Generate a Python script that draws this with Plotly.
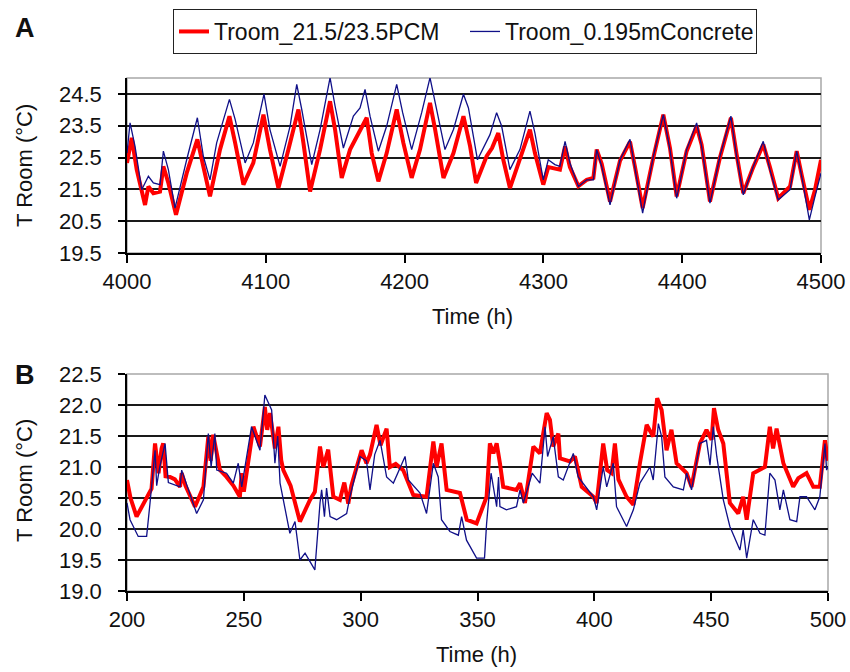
import plotly.graph_objects as go

# ---------------- Panel A data (hours 4000-4500) ----------------
a_pcm_t = [4000, 4003.4, 4007, 4013, 4015.4, 4019, 4023.8, 4026.2, 4029.8, 4035.3, 4043, 4050.7,
           4055, 4059.8, 4067, 4073.8, 4077.9, 4083.9, 4091, 4098.3, 4103, 4109.1, 4116.3, 4123.5,
           4127.1, 4131.9, 4139.1, 4146.3, 4149.9, 4154.7, 4160.7, 4165.5, 4172.7, 4176.3, 4181.1,
           4187.1, 4194.3, 4199.1, 4205.1, 4211.1, 4218.3, 4222, 4228, 4235.2, 4242.4, 4247.2,
           4251.5, 4259.1, 4263, 4267.5, 4271.1, 4275.9, 4283.1, 4290.3, 4293.9, 4299.9, 4303.5,
           4308.3, 4311.9, 4315.6, 4319.1, 4325.2, 4331.2, 4336, 4338.4, 4342, 4348, 4355.2, 4362.4,
           4366, 4371.5, 4379.2, 4386.4, 4391.2, 4396, 4403.2, 4410.4, 4414, 4420, 4427.2, 4435.1,
           4439.2, 4444, 4451.2, 4458.4, 4463.2, 4469.2, 4477.7, 4482.5, 4486.1, 4491.6, 4495.7, 4500]
a_pcm_v = [22.33, 23.12, 22.12, 21.01, 21.59, 21.38, 21.43, 22.22, 21.70, 20.70, 22.01, 23.07,
           22.22, 21.28, 22.75, 23.80, 22.96, 21.65, 22.33, 23.85, 22.75, 21.54, 22.75, 24.01,
           22.96, 21.43, 22.75, 24.27, 23.38, 21.86, 22.75, 23.17, 23.75, 22.64, 21.75,
           22.64, 24.01, 22.96, 21.86, 22.75, 24.22, 23.38, 21.86, 22.64, 23.80, 22.85,
           21.70, 22.54, 22.80, 23.27, 22.43, 21.54, 22.43, 23.38, 22.64, 21.65, 22.20,
           22.15, 22.12, 22.85, 22.20, 21.60, 21.80, 21.86, 22.75, 22.30, 21.12, 22.40, 23.00,
           22.20, 20.91, 22.50, 23.85, 22.80, 21.28, 22.70, 23.49, 22.90, 21.12, 22.50, 23.75,
           22.60, 21.38, 22.20, 22.91, 22.20, 21.22, 21.59, 22.70, 21.95, 20.86, 21.49, 22.43]

a_con_t = [4000, 4002.2, 4005.8, 4010.6, 4015.4, 4019, 4023.8, 4026.2, 4029.8, 4034.6, 4043, 4050.7,
           4055, 4059.8, 4064.6, 4073.8, 4077.9, 4085.1, 4091, 4098.7, 4103, 4110.3, 4117.5, 4122.3,
           4125.9, 4133.1, 4139.1, 4146.3, 4149.9, 4155.9, 4163.1, 4167.9, 4171.5, 4175.1, 4181.1,
           4187.1, 4194.3, 4198.6, 4205.1, 4212.3, 4218.3, 4222.7, 4229.1, 4235.2, 4242.4, 4246,
           4252.5, 4261.5, 4266.3, 4269.9, 4275.9, 4283.1, 4290.3, 4293.9, 4299.9, 4303.5, 4308.3,
           4311.9, 4315.6, 4319.1, 4325.2, 4331.2, 4336, 4338.4, 4342, 4348, 4355.2, 4362.4, 4366,
           4371.5, 4379.2, 4386.4, 4391.2, 4396, 4403.2, 4410.4, 4414, 4420, 4427.2, 4435.1, 4439.2,
           4444, 4451.2, 4458.4, 4463.2, 4469.2, 4477.7, 4482.5, 4486.1, 4491.6, 4495.7, 4500]
a_con_v = [22.64, 23.59, 22.85, 21.49, 21.91, 21.70, 21.65, 22.70, 22.12, 20.91, 22.43, 23.75,
           22.54, 21.80, 22.96, 24.33, 23.70, 22.33, 22.96, 24.49, 23.38, 22.22, 23.49, 24.80,
           24.01, 22.28, 23.38, 25.01, 24.12, 22.80, 23.80, 24.06, 24.64, 23.80, 22.70,
           23.49, 24.80, 23.91, 22.75, 23.91, 25.01, 24.12, 22.75, 23.38, 24.49, 24.06,
           22.43, 23.22, 23.91, 23.49, 22.12, 22.75, 23.96, 23.27, 21.80, 22.43, 22.28,
           22.22, 23.01, 22.33, 21.59, 21.80, 21.80, 22.75, 22.22, 21.01, 22.43, 23.07, 22.12,
           20.75, 22.54, 23.85, 22.75, 21.22, 22.75, 23.59, 22.85, 21.07, 22.54, 23.80, 22.54,
           21.33, 22.22, 23.01, 22.12, 21.17, 21.49, 22.70, 21.91, 20.54, 21.28, 22.01]

# ---------------- Panel B data (hours 200-500) ----------------
b_pcm_t = [200, 201.5, 204.1, 208.4, 210.5, 212, 213.5, 214.8, 215.5, 216.5, 218.4, 220.5, 222.7,
           223.4, 225, 229.1, 232.7, 234.8, 235.8, 236.9, 238.4, 239.8, 242.6, 245.5, 248.3, 249.1,
           250, 254.1, 256.9, 259, 260, 261.2, 263.3, 264.8, 266, 266.9, 270, 274, 278.3, 280.4,
           282.6, 284, 286.1, 288.3, 291.1, 293, 294.7, 296, 300.4, 302.5, 304, 306.8, 308.5,
           311.1, 312.5, 315, 318.2, 322.5, 328.2, 331.1, 332.5, 334.6, 336.8, 342.5, 345.4,
           349.6, 353.9, 355.3, 356.8, 358.2, 359.6, 361, 366.7, 368.2, 370.3, 373.9, 376.7,
           379.6, 381, 382.4, 384.6, 385.3, 389.6, 391.7, 394.6, 399.6, 401, 403.8, 405.5,
           407.4, 408.8, 410.3, 413.8, 416.7, 419.5, 422.4, 425.2, 426.9, 428.8, 430.9, 433,
           435.2, 439.5, 441.6, 445.2, 448, 450.2, 451.2, 453, 455.2, 458, 461.6, 463.7, 465.2,
           468, 473, 475.1, 476.5, 478, 480.9, 485.1, 487.3, 490.8, 493.7, 496.5, 498.7, 500]
b_pcm_v = [20.79, 20.50, 20.20, 20.52, 20.65, 21.38, 20.90, 21.30, 21.38, 20.85, 20.84, 20.80, 20.68,
           20.90, 20.70, 20.36, 20.68, 21.49, 21.10, 21.52, 21.20, 20.95, 20.84, 20.70, 20.52, 20.90,
           20.60, 21.65, 21.33, 21.97, 21.60, 21.87, 21.30, 21.65, 21.11, 20.95, 20.70, 20.12, 20.47, 20.60,
           21.33, 21.00, 21.28, 20.52, 20.47, 20.75, 20.41, 20.70, 21.27, 21.06, 21.20, 21.68, 21.35,
           21.62, 21.00, 21.05, 20.95, 20.55, 20.52, 21.41, 21.00, 21.38, 20.63, 20.58, 20.15,
           20.09, 20.52, 21.38, 21.22, 21.38, 21.06, 20.68, 20.63, 20.74, 20.42, 21.33, 21.22,
           21.87, 21.76, 21.33, 21.54, 21.14, 21.09, 21.17, 20.68, 20.52, 20.42, 21.38, 20.95,
           20.90, 21.38, 20.80, 20.52, 20.39, 21.06, 21.68, 21.49, 22.11, 21.92, 21.27, 21.60,
           21.06, 20.90, 20.68, 21.38, 21.60, 21.44, 21.95, 21.60, 21.38, 20.42, 20.25, 20.52, 20.15,
           20.90, 21.00, 21.65, 21.30, 21.62, 21.06, 20.68, 20.82, 20.90, 20.68, 20.68, 21.43, 21.10]

b_con_t = [200, 201.3, 204.8, 208.4, 209.8, 212, 212.7, 214, 216.3, 217.7, 222.7, 223.4, 229.8,
           232.7, 234.8, 236, 237.6, 238.4, 242.6, 245.5, 247.6, 249.1, 253.3, 256.9, 259, 261.9,
           263.3, 264.5, 265.5, 269.7, 271.9, 274, 276.2, 280.4, 282.6, 283.3, 284.5, 285.4,
           286.9, 289.7, 294, 295.4, 299.7, 302.5, 304, 306, 308.3, 311.1, 314, 319, 320.4,
           325.4, 328.2, 331.1, 333.2, 334.6, 338.2, 341.8, 343.2, 345.3, 349.6, 353, 353.9,
           355.8, 358.2, 359, 359.6, 362.4, 366.7, 368.2, 369.6, 373.4, 376.7, 378.9, 380,
           382.4, 384.6, 386.7, 391, 393.1, 399.6, 401, 403.8, 405.3, 408.1, 409.5, 413.8,
           416.7, 419.5, 423.8, 425.2, 427.4, 428.8, 430.2, 433.8, 438.1, 439.5, 441.6, 445.2,
           448, 449.5, 450.9, 452.4, 455.2, 458, 462.3, 463.7, 465.2, 468, 470.9, 473, 475.1,
           477.3, 479.4, 480.9, 483.7, 486.6, 488, 490.8, 494.4, 496.5, 498.7, 499.4, 500]
b_con_v = [20.42, 20.15, 19.88, 19.88, 20.40, 21.27, 20.70, 21.00, 21.38, 20.75, 20.68, 20.95, 20.25,
           20.47, 21.54, 21.00, 21.54, 20.95, 20.90, 20.74, 21.06, 20.68, 21.65, 21.27, 22.16, 21.92,
           21.06, 21.50, 20.74, 19.93, 20.12, 19.50, 19.61, 19.34, 20.42, 20.63, 20.20, 20.66,
           20.20, 20.15, 20.25, 20.52, 21.17, 21.10, 20.63, 21.20, 21.43, 20.84, 20.74, 21.17, 20.79,
           20.58, 20.25, 21.06, 20.84, 20.15, 19.96, 19.90, 20.20, 19.82, 19.53, 19.53, 20.09,
           20.90, 20.36, 20.84, 20.36, 20.31, 20.36, 20.63, 20.42, 20.90, 20.74, 21.65, 21.17,
           21.49, 20.84, 20.79, 21.22, 20.84, 20.52, 20.31, 21.00, 20.68, 21.06, 20.36, 20.04,
           20.31, 20.74, 21.00, 20.79, 21.70, 21.49, 20.84, 20.68, 20.63, 20.90, 20.63, 21.38,
           21.43, 21.03, 21.65, 21.17, 20.47, 20.04, 19.66, 19.99, 19.53, 20.15, 19.93, 19.90, 20.90,
           20.79, 20.31, 20.63, 20.15, 20.12, 20.52, 20.52, 20.31, 20.52, 21.38, 20.95, 21.00]

a_xticks = [4000, 4100, 4200, 4300, 4400, 4500]
a_yticks = [19.5, 20.5, 21.5, 22.5, 23.5, 24.5]
b_xticks = [200, 250, 300, 350, 400, 450, 500]
b_yticks = [19.0, 19.5, 20.0, 20.5, 21.0, 21.5, 22.0, 22.5]

name_pcm = "Troom_21.5/23.5PCM"
name_con = "Troom_0.195mConcrete"

RED = "#ff0000"
BLUE = "#101088"
FONT = "Liberation Sans, Arial, sans-serif"

fig = go.Figure()
fig.add_trace(go.Scatter(x=a_pcm_t, y=a_pcm_v, mode="lines", name=name_pcm,
                         line=dict(color=RED, width=4), xaxis="x", yaxis="y"))
fig.add_trace(go.Scatter(x=a_con_t, y=a_con_v, mode="lines", name=name_con,
                         line=dict(color=BLUE, width=1.3), xaxis="x", yaxis="y"))
fig.add_trace(go.Scatter(x=b_pcm_t, y=b_pcm_v, mode="lines", name=name_pcm, showlegend=False,
                         line=dict(color=RED, width=4), xaxis="x2", yaxis="y2"))
fig.add_trace(go.Scatter(x=b_con_t, y=b_con_v, mode="lines", name=name_con, showlegend=False,
                         line=dict(color=BLUE, width=1.3), xaxis="x2", yaxis="y2"))

W, H = 850, 672
def px(x):
    return x / W
def py(y):
    return 1 - y / H
def xd(a, b):
    return [px(a), px(b)]
def yd(top, bottom):
    return [py(bottom), py(top)]

tick_font = dict(family=FONT, size=22, color="#111")
common_x = dict(showline=True, linecolor="black", linewidth=1.5, ticks="outside", ticklen=8,
                tickwidth=1.5, tickcolor="black", showgrid=False, zeroline=False,
                tickfont=tick_font, ticklabelstandoff=0, ticklabeloverflow="allow")
common_y = dict(showline=True, linecolor="black", linewidth=1.5, ticks="outside", ticklen=7,
                tickwidth=1.5, tickcolor="black", showgrid=True, gridcolor="#1a1a1a",
                gridwidth=1.5, zeroline=False, tickfont=tick_font, ticklabelstandoff=12,
                tickformat=".1f", ticklabeloverflow="allow")

def label(text, x, y, size=22, angle=0):
    return dict(text=text, x=px(x), y=py(y), xref="paper", yref="paper", xanchor="center",
                yanchor="middle", showarrow=False, textangle=angle,
                font=dict(family=FONT, size=size, color="#111"))

fig.update_layout(
    width=W, height=H, margin=dict(l=0, r=0, t=0, b=0, autoexpand=False),
    paper_bgcolor="white", plot_bgcolor="white",
    font=dict(family=FONT, color="#111"),
    xaxis=dict(domain=xd(127, 821), range=[4000, 4500], tickvals=a_xticks, anchor="y", **common_x),
    yaxis=dict(domain=yd(78, 253), range=[19.5, 25.0], tickvals=a_yticks, anchor="x", **common_y),
    xaxis2=dict(domain=xd(127, 828), range=[200, 500], tickvals=b_xticks, anchor="y2", **common_x),
    yaxis2=dict(domain=yd(374, 591), range=[19.0, 22.5], tickvals=b_yticks, anchor="x2", **common_y),
    legend=dict(orientation="h", x=px(173), y=py(9), xanchor="left", yanchor="top",
                bordercolor="#222", borderwidth=1, bgcolor="white",
                font=dict(family=FONT, size=23, color="#111"),
                entrywidth=246, entrywidthmode="pixels", tracegroupgap=0,
                itemwidth=30),
    shapes=[
        dict(type="rect", xref="x domain", yref="y domain", x0=0, x1=1, y0=0, y1=1,
             line=dict(color="#a8a8a8", width=1.5), layer="below"),
        dict(type="rect", xref="x2 domain", yref="y2 domain", x0=0, x1=1, y0=0, y1=1,
             line=dict(color="#a8a8a8", width=1.5), layer="below"),
    ],
    annotations=[
        label("<b>A</b>", 25, 28, size=27),
        label("<b>B</b>", 25, 375, size=27),
        label("T Room (°C)", 24, 166, angle=-90),
        label("T Room (°C)", 24, 481, angle=-90),
        label("Time (h)", 472, 316),
        label("Time (h)", 476, 654),
    ],
)

# remove the browser's default 8px body margin so the 850x672 figure fills the window exactly
fig.write_html("out.html", config={"displayModeBar": False},
               post_script="document.body.style.margin='0px';")
